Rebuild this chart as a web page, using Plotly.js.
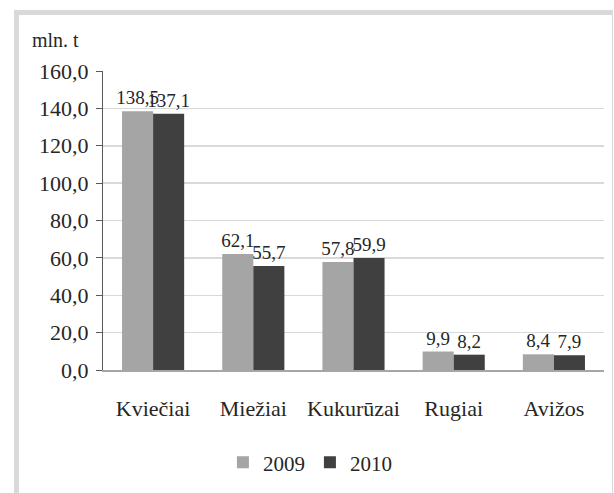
<!DOCTYPE html>
<html>
<head>
<meta charset="utf-8">
<script src="https://cdn.plot.ly/plotly-3.0.1.min.js"></script>
<style>
  html, body { margin: 0; padding: 0; background: #fff; }
  #frame { position: absolute; left: 14px; top: 10px; width: 593px; height: 500px;
           border-left: 5px solid #d9d9d9; border-top: 5px solid #d9d9d9; border-right: 1px solid #d9d9d9; }
  #chart { position: absolute; left: 0; top: 0; width: 614px; height: 493px; }
  #chart svg text { font-family: 'Liberation Serif', 'Times New Roman', serif !important; }
</style>
</head>
<body>
<div id="frame"></div>
<div id="chart"></div>
<script>
const categories = ["Kviečiai", "Miežiai", "Kukurūzai", "Rugiai", "Avižos"];
const series2009 = [138.5, 62.1, 57.8, 9.9, 8.4];
const series2010 = [137.1, 55.7, 59.9, 8.2, 7.9];
const seriesNames = ["2009", "2010"];
const yTicks = [0, 20, 40, 60, 80, 100, 120, 140, 160];

const fontFam = "Times New Roman, Liberation Serif, serif";
const textColor = "#262626";

const traces = [
  { type: "bar", name: seriesNames[0], x: categories, y: series2009,
    marker: { color: "#a5a5a5" },
    text: series2009, texttemplate: "%{y:.1f}", textposition: "outside",
    constraintext: "none", cliponaxis: false,
    textfont: { family: fontFam, size: 19, color: textColor } },
  { type: "bar", name: seriesNames[1], x: categories, y: series2010,
    marker: { color: "#404040" },
    text: series2010, texttemplate: "%{y:.1f}", textposition: "outside",
    constraintext: "none", cliponaxis: false,
    textfont: { family: fontFam, size: 19, color: textColor } }
];

const layout = {
  width: 614, height: 493,
  margin: { l: 103, r: 10, t: 71, b: 119 },
  paper_bgcolor: "rgba(0,0,0,0)",
  plot_bgcolor: "rgba(0,0,0,0)",
  separators: ", ",
  font: { family: fontFam, size: 21, color: textColor },
  barmode: "group",
  bargap: 0.38,
  bargroupgap: 0,
  showlegend: true,
  legend: { orientation: "h", x: 0.413, xanchor: "center", y: -0.31, yanchor: "middle",
            font: { family: fontFam, size: 21, color: textColor }, traceorder: "normal" },
  xaxis: { type: "category", showline: true, linecolor: "#a6a6a6", linewidth: 2,
           ticks: "", tickfont: { family: fontFam, size: 22, color: textColor },
           ticklabelstandoff: 18, fixedrange: true },
  yaxis: { range: [0, 160], tickvals: yTicks, tickformat: ".1f",
           showline: true, linecolor: "#595959", linewidth: 1,
           ticks: "outside", ticklen: 6, tickcolor: "#595959",
           showgrid: true, gridcolor: "#d9d9d9", gridwidth: 1.5,
           zeroline: false, tickfont: { family: fontFam, size: 22, color: textColor },
           ticklabelstandoff: 3, fixedrange: true },
  annotations: [
    { text: "mln. t", xref: "paper", yref: "paper", x: -0.094, y: 1.06,
      xanchor: "center", yanchor: "bottom", showarrow: false,
      font: { family: fontFam, size: 20, color: textColor } }
  ]
};

Plotly.newPlot("chart", traces, layout, { displayModeBar: false, staticPlot: true });
</script>
</body>
</html>
